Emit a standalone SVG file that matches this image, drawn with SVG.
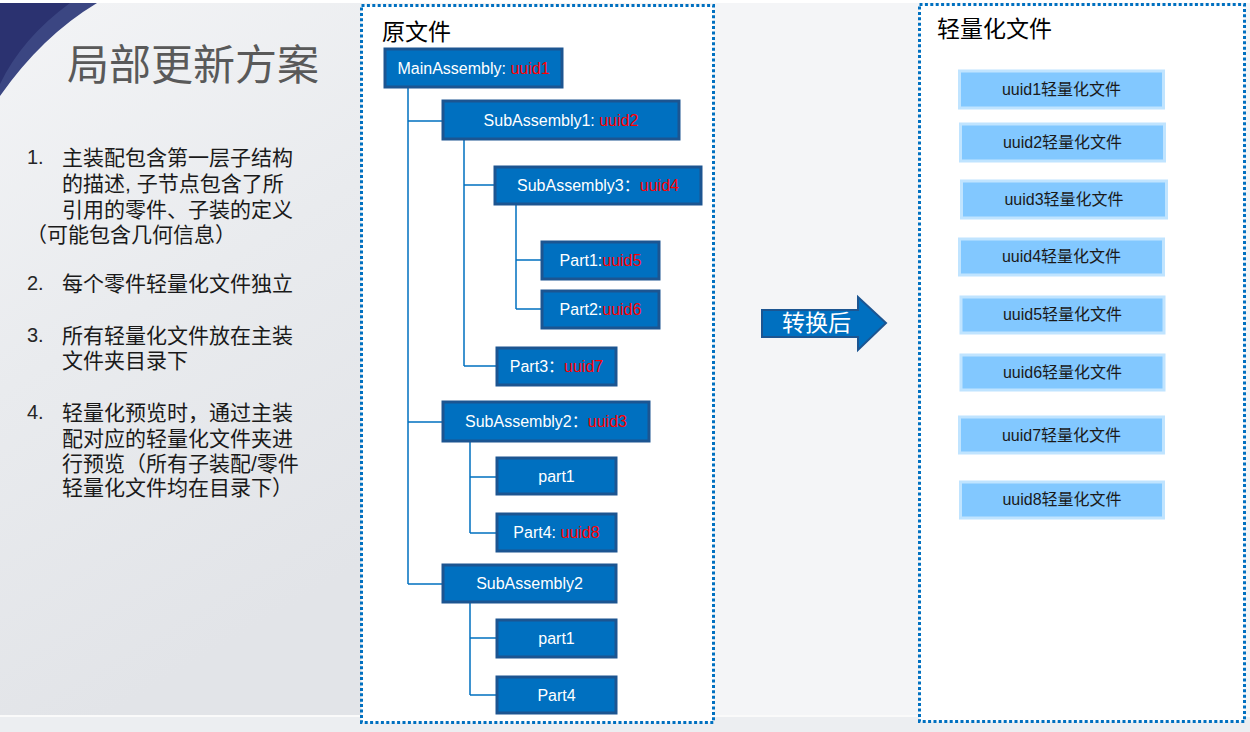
<svg xmlns="http://www.w3.org/2000/svg" width="1250" height="732" viewBox="0 0 1250 732">
<defs>
<linearGradient id="bgL" x1="0" y1="0" x2="0.3" y2="1">
<stop offset="0" stop-color="#f3f4f6"/>
<stop offset="0.5" stop-color="#e9ebee"/>
<stop offset="1" stop-color="#e2e4e8"/>
</linearGradient>
<style>
.title{font-family:"Liberation Sans","Noto Sans CJK SC",sans-serif;font-size:42px;fill:#595959}
.item{font-family:"Liberation Sans","Noto Sans CJK SC",sans-serif;font-size:21px;fill:#1a1a1a}
.num{font-family:"Liberation Sans","Noto Sans CJK SC",sans-serif;font-size:20px;fill:#262626}
.frame{fill:#fff;stroke:#0070C0;stroke-width:3;stroke-dasharray:3 2.4}
.head{font-family:"Liberation Sans","Noto Sans CJK SC",sans-serif;font-size:23px;fill:#000}
.tb{fill:#0070C0;stroke:#1C5591;stroke-width:3}
.tt{font-family:"Liberation Sans","Noto Sans CJK SC",sans-serif;font-size:16px;fill:#fff;text-anchor:middle}
.red{fill:#FF0000}
.lb{fill:#82C8FF;stroke:#C0E4FF;stroke-width:3}
.lt{font-family:"Liberation Sans","Noto Sans CJK SC",sans-serif;font-size:16px;fill:#1a1a1a;text-anchor:middle}
.conn{fill:none;stroke:#0070C0;stroke-width:1.5}
</style>
</defs>
<rect width="1250" height="732" fill="#f4f5f7"/>
<rect x="0" y="3" width="362" height="712" fill="url(#bgL)"/>
<rect x="0" y="0" width="1250" height="3" fill="#ffffff"/>
<rect x="0" y="715" width="1250" height="2" fill="#fafafa"/>
<rect x="0" y="717" width="1250" height="15" fill="#eceef1"/>
<path d="M0,3 L97,3 Q42,36 0,96 Z" fill="#3b4682"/>
<path d="M0,3 L70,3 Q22,38 0,84 Z" fill="#2b3270"/>

<g id="title"><text class="title" x="67" y="80">局部更新方案</text></g>
<g id="notes">
<text class="num" x="27" y="164">1.</text>
<text class="item" x="62" y="165">主装配包含第一层子结构</text>
<text class="item" x="62" y="191">的描述, 子节点包含了所</text>
<text class="item" x="62" y="217">引用的零件、子装的定义</text>
<text class="item" x="26" y="242">（可能包含几何信息）</text>
<text class="num" x="27" y="290">2.</text>
<text class="item" x="62" y="291">每个零件轻量化文件独立</text>
<text class="num" x="27" y="342">3.</text>
<text class="item" x="62" y="343">所有轻量化文件放在主装</text>
<text class="item" x="62" y="368">文件夹目录下</text>
<text class="num" x="27" y="419" fill="#555">4.</text>
<text class="item" x="62" y="420">轻量化预览时，通过主装</text>
<text class="item" x="62" y="446">配对应的轻量化文件夹进</text>
<text class="item" x="62" y="471">行预览（所有子装配/零件</text>
<text class="item" x="62" y="495">轻量化文件均在目录下）</text>
</g>

<rect class="frame" x="361.5" y="5.5" width="352" height="717"/>
<rect class="frame" x="919.5" y="4.5" width="325" height="717"/>
<text class="head" x="382" y="40">原文件</text>
<text class="head" x="937" y="37">轻量化文件</text>

<g id="connectors">
<path class="conn" d="M408,87 V584 M408,121 H443 M408,422 H443 M408,584 H443"/>
<path class="conn" d="M464,139 V366 M464,185 H495 M464,366 H497"/>
<path class="conn" d="M516,204 V309 M516,260 H542 M516,309 H542"/>
<path class="conn" d="M470,441 V533 M470,477 H497 M470,533 H497"/>
<path class="conn" d="M470,602 V695 M470,638 H497 M470,695 H497"/>
</g>

<g id="n-main"><rect class="tb" x="385" y="49" width="177" height="38"/><text class="tt" x="473.5" y="74">MainAssembly: <tspan class="red">uuid1</tspan></text></g>
<g id="n-sub1"><rect class="tb" x="443" y="101" width="236" height="38"/><text class="tt" x="561" y="126">SubAssembly1: <tspan class="red">uuid2</tspan></text></g>
<g id="n-sub3"><rect class="tb" x="495" y="167" width="206" height="37"/><text class="tt" x="598" y="191">SubAssembly3：<tspan class="red">uuid4</tspan></text></g>
<g id="n-part1a"><rect class="tb" x="542" y="242" width="117" height="37"/><text class="tt" x="600.5" y="266">Part1:<tspan class="red">uuid5</tspan></text></g>
<g id="n-part2"><rect class="tb" x="542" y="291" width="117" height="37"/><text class="tt" x="600.5" y="315">Part2:<tspan class="red">uuid6</tspan></text></g>
<g id="n-part3"><rect class="tb" x="497" y="348" width="119" height="37"/><text class="tt" x="556.5" y="372">Part3：<tspan class="red">uuid7</tspan></text></g>
<g id="n-sub2a"><rect class="tb" x="443" y="402" width="206" height="39"/><text class="tt" x="546" y="427">SubAssembly2：<tspan class="red">uuid3</tspan></text></g>
<g id="n-part1b"><rect class="tb" x="497" y="458" width="119" height="36"/><text class="tt" x="556.5" y="482">part1</text></g>
<g id="n-part4a"><rect class="tb" x="497" y="514" width="119" height="37"/><text class="tt" x="556.5" y="538">Part4: <tspan class="red">uuid8</tspan></text></g>
<g id="n-sub2b"><rect class="tb" x="443" y="565" width="173" height="37"/><text class="tt" x="529.5" y="589">SubAssembly2</text></g>
<g id="n-part1c"><rect class="tb" x="497" y="620" width="119" height="37"/><text class="tt" x="556.5" y="644">part1</text></g>
<g id="n-part4b"><rect class="tb" x="497" y="677" width="119" height="36"/><text class="tt" x="556.5" y="701">Part4</text></g>

<g id="arrow">
<polygon points="762,310 858,310 858,297 886,323 858,350 858,337 762,337" fill="#0070C0" stroke="#1C5591" stroke-width="2"/>
<text x="782" y="331" font-family="Liberation Sans,Noto Sans CJK SC,sans-serif" font-size="23" fill="#fff">转换后</text>
</g>

<g id="l1"><rect class="lb" x="959.5" y="71" width="204" height="37"/><text class="lt" x="1061.5" y="95">uuid1轻量化文件</text></g>
<g id="l2"><rect class="lb" x="960.5" y="124" width="204" height="37"/><text class="lt" x="1062.5" y="148">uuid2轻量化文件</text></g>
<g id="l3"><rect class="lb" x="961.5" y="181" width="205" height="37"/><text class="lt" x="1064" y="205">uuid3轻量化文件</text></g>
<g id="l4"><rect class="lb" x="959.5" y="239" width="204" height="36"/><text class="lt" x="1061.5" y="262">uuid4轻量化文件</text></g>
<g id="l5"><rect class="lb" x="961" y="297" width="203" height="36"/><text class="lt" x="1062.5" y="320">uuid5轻量化文件</text></g>
<g id="l6"><rect class="lb" x="961" y="355" width="203" height="35"/><text class="lt" x="1062.5" y="378">uuid6轻量化文件</text></g>
<g id="l7"><rect class="lb" x="959.5" y="417" width="204" height="36"/><text class="lt" x="1061.5" y="441">uuid7轻量化文件</text></g>
<g id="l8"><rect class="lb" x="960.5" y="482" width="203" height="36"/><text class="lt" x="1062" y="505">uuid8轻量化文件</text></g>
</svg>
